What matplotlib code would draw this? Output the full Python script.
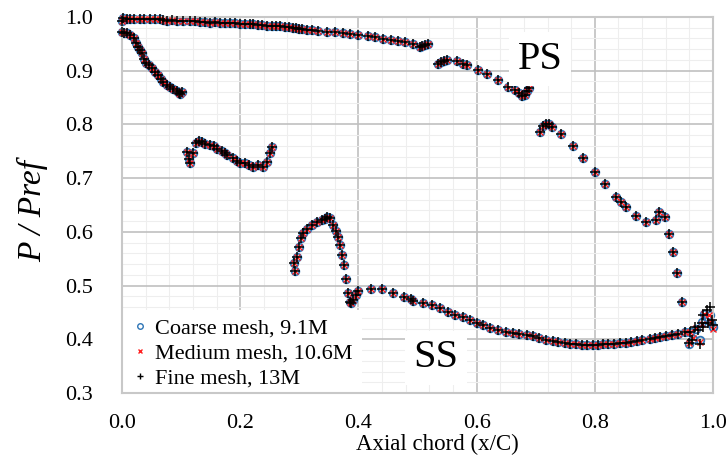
import matplotlib
matplotlib.use("Agg")
import matplotlib.pyplot as plt
from matplotlib.lines import Line2D
from matplotlib.ticker import MultipleLocator, FormatStrFormatter

plt.rcParams['font.family'] = ['Liberation Serif', 'DejaVu Serif']

# Pressure side (shared by all meshes, points coincide visually)
ps_x = [0.000, 0.002, 0.008, 0.013, 0.020, 0.030, 0.038, 0.047, 0.055, 0.064, 0.070, 0.076,
        0.085, 0.093, 0.104, 0.115, 0.124, 0.132, 0.140, 0.149, 0.158, 0.166, 0.175, 0.183,
        0.192, 0.200, 0.208, 0.217, 0.222, 0.230, 0.237, 0.245, 0.253, 0.260, 0.267, 0.275,
        0.282, 0.289, 0.295, 0.300, 0.305, 0.313, 0.322, 0.332, 0.347, 0.360, 0.374, 0.386,
        0.399, 0.416, 0.428, 0.442, 0.455, 0.467, 0.479, 0.492, 0.504, 0.508, 0.513, 0.518,
        0.535, 0.540, 0.545, 0.550, 0.567, 0.577, 0.584, 0.602, 0.618, 0.636, 0.653, 0.665,
        0.672, 0.677, 0.682, 0.686, 0.689, 0.707, 0.712, 0.717, 0.722, 0.728, 0.743, 0.763,
        0.780, 0.800, 0.817, 0.836, 0.844, 0.853, 0.870, 0.887, 0.904, 0.909, 0.919, 0.926,
        0.932, 0.939, 0.947]
ps_y = [0.993, 0.998, 0.997, 0.996, 0.997, 0.996, 0.997, 0.996, 0.997, 0.996, 0.995, 0.993,
        0.994, 0.993, 0.993, 0.993, 0.992, 0.991, 0.990, 0.989, 0.990, 0.989, 0.989, 0.989,
        0.988, 0.987, 0.987, 0.987, 0.987, 0.985, 0.985, 0.983, 0.984, 0.983, 0.983, 0.982,
        0.981, 0.980, 0.979, 0.978, 0.977, 0.976, 0.975, 0.974, 0.972, 0.972, 0.970, 0.968,
        0.966, 0.965, 0.963, 0.959, 0.957, 0.955, 0.953, 0.950, 0.944, 0.946, 0.948, 0.950,
        0.912, 0.916, 0.918, 0.920, 0.918, 0.912, 0.910, 0.901, 0.894, 0.883, 0.870, 0.864,
        0.858, 0.852, 0.855, 0.862, 0.868, 0.786, 0.797, 0.801, 0.800, 0.795, 0.782, 0.760,
        0.737, 0.711, 0.689, 0.665, 0.655, 0.646, 0.629, 0.618, 0.622, 0.637, 0.628, 0.596,
        0.562, 0.523, 0.469]

# Suction side (shared by all meshes)
ss_x = [0.000, 0.003, 0.008, 0.013, 0.020, 0.024, 0.027, 0.031, 0.034, 0.037, 0.040, 0.045,
        0.050, 0.055, 0.061, 0.066, 0.070, 0.076, 0.081, 0.087, 0.093, 0.096, 0.098, 0.101,
        0.110, 0.114, 0.115, 0.120, 0.125, 0.130, 0.135, 0.140, 0.149, 0.155, 0.161, 0.169,
        0.175, 0.178, 0.188, 0.195, 0.200, 0.208, 0.215, 0.222, 0.230, 0.239, 0.245, 0.250,
        0.254,
        0.291, 0.293, 0.296, 0.300, 0.303, 0.307, 0.313, 0.321, 0.330, 0.338, 0.343, 0.347,
        0.352, 0.357, 0.362, 0.366, 0.369, 0.372, 0.376, 0.379, 0.382, 0.385, 0.387, 0.391,
        0.396, 0.399, 0.421, 0.440, 0.459, 0.477, 0.489, 0.492, 0.509, 0.525, 0.538, 0.552,
        0.563, 0.577, 0.589, 0.601, 0.611, 0.623, 0.636, 0.650, 0.662, 0.672, 0.685, 0.695,
        0.706, 0.717, 0.729, 0.738, 0.750, 0.758, 0.768, 0.778, 0.787, 0.797, 0.805, 0.814,
        0.823, 0.833, 0.843, 0.852, 0.862, 0.871, 0.880, 0.893, 0.902, 0.910, 0.920, 0.931,
        0.941, 0.953, 0.961]
ss_y = [0.972, 0.970, 0.970, 0.966, 0.960, 0.952, 0.944, 0.938, 0.933, 0.922, 0.914, 0.910,
        0.905, 0.898, 0.892, 0.885, 0.879, 0.874, 0.870, 0.866, 0.862, 0.859, 0.857, 0.860,
        0.749, 0.735, 0.728, 0.747, 0.765, 0.769, 0.767, 0.763, 0.762, 0.759, 0.754, 0.750,
        0.746, 0.743, 0.737, 0.731, 0.728, 0.728, 0.724, 0.720, 0.724, 0.720, 0.730, 0.747,
        0.758,
        0.542, 0.527, 0.553, 0.572, 0.588, 0.598, 0.605, 0.613, 0.618, 0.622, 0.624, 0.628,
        0.626, 0.613, 0.602, 0.590, 0.575, 0.557, 0.538, 0.512, 0.486, 0.470, 0.467, 0.473,
        0.482, 0.490, 0.493, 0.493, 0.486, 0.479, 0.475, 0.471, 0.467, 0.464, 0.458, 0.451,
        0.445, 0.441, 0.436, 0.430, 0.426, 0.421, 0.417, 0.413, 0.412, 0.410, 0.408, 0.406,
        0.402, 0.398, 0.397, 0.395, 0.393, 0.391, 0.391, 0.390, 0.389, 0.390, 0.390, 0.391,
        0.391, 0.392, 0.393, 0.394, 0.395, 0.397, 0.398, 0.400, 0.402, 0.404, 0.406, 0.408,
        0.410, 0.414, 0.414]

# Trailing-edge points, which differ between meshes
coarse_te_x = [0.959, 0.966, 0.972, 0.978, 0.981, 0.985, 0.990, 0.995, 0.997, 1.000]
coarse_te_y = [0.392, 0.400, 0.420, 0.398, 0.432, 0.447, 0.440, 0.445, 0.430, 0.423]
medium_te_x = [0.959, 0.966, 0.972, 0.978, 0.982, 0.985, 0.993, 0.997, 1.000]
medium_te_y = [0.393, 0.402, 0.421, 0.395, 0.428, 0.447, 0.445, 0.432, 0.420]
fine_te_x = [0.959, 0.964, 0.970, 0.975, 0.978, 0.981, 0.983, 0.983, 0.990, 0.995, 0.992, 0.998, 1.000]
fine_te_y = [0.393, 0.398, 0.423, 0.417, 0.391, 0.430, 0.423, 0.445, 0.454, 0.460, 0.430, 0.436, 0.426]

labels = ['Coarse mesh, 9.1M', 'Medium mesh, 10.6M', 'Fine mesh, 13M']
x_ticks = [0.0, 0.2, 0.4, 0.6, 0.8, 1.0]
y_ticks = [0.3, 0.4, 0.5, 0.6, 0.7, 0.8, 0.9, 1.0]

fig = plt.figure(figsize=(7.26, 4.58), dpi=100)
ax = fig.add_axes([122/726, 65/458, 591/726, 376/458])

blue = '#2E75B6'
red = '#FF2020'

cx = ps_x + ss_x + coarse_te_x
cy = ps_y + ss_y + coarse_te_y
mx = ps_x + ss_x + medium_te_x
my = ps_y + ss_y + medium_te_y
fx = ps_x + ss_x + fine_te_x
fy = ps_y + ss_y + fine_te_y

ax.plot(cx, cy, ls='none', marker='o', ms=5.5, mfc='none', mec=blue, mew=1.3, clip_on=False, zorder=3)
ax.plot(mx, my, ls='none', marker='x', ms=4, mec=red, mew=1.0, clip_on=False, zorder=4)
ax.plot(fx, fy, ls='none', marker='+', ms=6.5, mec='black', mew=1.1, clip_on=False, zorder=5)

ax.set_xlim(0, 1.0)
ax.set_ylim(0.3, 1.0)
ax.set_xticks(x_ticks)
ax.set_yticks(y_ticks)
ax.xaxis.set_minor_locator(MultipleLocator(0.04))
ax.yaxis.set_minor_locator(MultipleLocator(0.02))
ax.xaxis.set_major_formatter(FormatStrFormatter('%.1f'))
ax.yaxis.set_major_formatter(FormatStrFormatter('%.1f'))
ax.grid(which='major', color='#C0C0C0', lw=1.2, zorder=0)
ax.grid(which='minor', color='#EEEEEE', lw=0.8, zorder=0)
ax.set_axisbelow(True)
ax.tick_params(which='both', length=0)
ax.tick_params(axis='x', labelsize=16, pad=15)
ax.tick_params(axis='y', labelsize=16, pad=21)
for s in ax.spines.values():
    s.set_color('#C8C8C8')
    s.set_linewidth(1.5)
    s.set_zorder(3)

ax.text(0.533, -0.137, 'Axial chord (x/C)', transform=ax.transAxes, fontsize=16.5,
        ha='center', va='center')
ax.set_ylabel('P / Pref', fontsize=24, style='italic')
ax.yaxis.set_label_coords(-0.125, 0.484)

ax.text(0.707, 0.921, 'PS', fontsize=29, ha='center', va='center', zorder=6,
        bbox=dict(facecolor='white', edgecolor='none', pad=6))
ax.text(0.531, 0.366, 'SS', fontsize=29, ha='center', va='center', zorder=6,
        bbox=dict(facecolor='white', edgecolor='none', pad=6))

handles = [
    Line2D([], [], ls='none', marker='o', ms=4, mfc='none', mec=blue, mew=1.0),
    Line2D([], [], ls='none', marker='x', ms=3.5, mec=red, mew=1.0),
    Line2D([], [], ls='none', marker='+', ms=5, mec='black', mew=1.0),
]
leg = ax.legend(handles, labels, loc='lower left', bbox_to_anchor=(0, -0.0117), borderaxespad=0.0,
                fontsize=16, frameon=True, facecolor='white', edgecolor='none', framealpha=1,
                fancybox=False, handlelength=0.8, handletextpad=0.3, labelspacing=0.19,
                borderpad=0.4)
leg.set_zorder(2.4)

fig.savefig('out.png', dpi=100)
